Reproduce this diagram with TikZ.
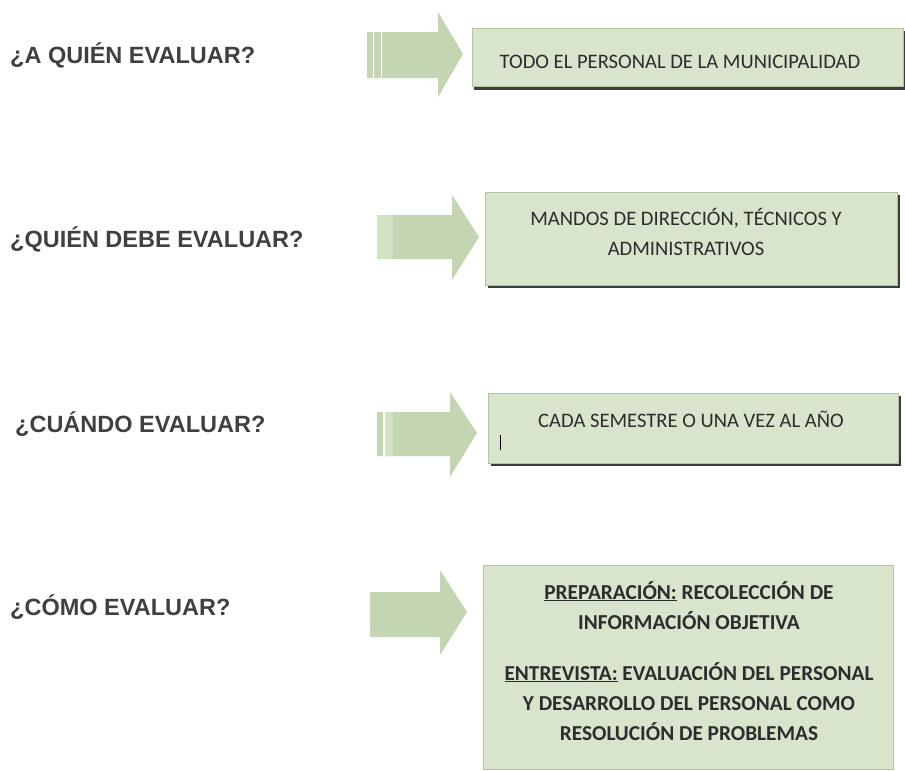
\documentclass[tikz,border=0pt]{standalone}
\usepackage{fontspec}
\setmainfont{Carlito}
\newfontfamily\qfont{Liberation Sans}
\definecolor{arrowgreen}{RGB}{196,214,177}
\definecolor{arrowlight}{RGB}{210,225,196}
\definecolor{boxgreen}{RGB}{216,228,204}
\definecolor{boxedge}{RGB}{178,196,160}
\definecolor{shadowgray}{RGB}{60,60,60}
\definecolor{qtext}{RGB}{64,64,64}
\definecolor{btext}{RGB}{45,45,45}
\newcommand{\ulbox}[1]{\underline{#1}}
\tikzset{
  qlabel/.style={anchor=base west, inner sep=0pt, text=qtext,
    font=\qfont\bfseries\fontsize{23.5}{27}\selectfont},
  boxtext/.style={anchor=base, inner sep=0pt, text=btext,
    font=\fontsize{20.6}{24}\selectfont},
  boxbold/.style={anchor=base, inner sep=0pt, text=btext,
    font=\bfseries\fontsize{21.3}{25}\selectfont},
  arrowbody/.style={fill=arrowgreen, draw=none},
  greenbox/.style={fill=boxgreen, draw=boxedge, line width=0.9pt},
  boxshadow/.style={fill=shadowgray, draw=none},
}
\begin{document}
\begin{tikzpicture}[x=1pt, y=-1pt]
\useasboundingbox (0,0) rectangle (905,771);
\fill[white] (0,0) rectangle (905,771);

% ---------- labels ----------
\node[qlabel] (q1) at (10,63) {¿A QUIÉN EVALUAR?};
\node[qlabel] (q2) at (10,247) {¿QUIÉN DEBE EVALUAR?};
\node[qlabel] (q3) at (15,432) {¿CUÁNDO EVALUAR?};
\node[qlabel] (q4) at (10,615) {¿CÓMO EVALUAR?};

% ---------- arrows ----------
% row 1
\path[arrowbody] (367,32) -- (438,32) -- (438,12) -- (463,54) -- (438,97) -- (438,78) -- (367,78) -- cycle;
\fill[white] (372.5,32) rectangle (373.8,78);
\fill[white] (380.5,32) rectangle (381.8,78);
% row 2
\path[arrowbody] (377,215) -- (452,215) -- (452,195) -- (479,237) -- (452,280) -- (452,259) -- (377,259) -- cycle;
\fill[arrowlight] (377,215) rectangle (393,259);
% row 3
\path[arrowbody] (377,412) -- (450,412) -- (450,392) -- (477,433) -- (450,477) -- (450,456) -- (377,456) -- cycle;
\fill[white] (383,412) rectangle (384.5,456);
\fill[arrowlight] (384.5,412) rectangle (393,456);
% row 4
\path[arrowbody] (370,592) -- (440,592) -- (440,570) -- (467,612) -- (440,655) -- (440,637) -- (370,637) -- cycle;

% ---------- boxes ----------
% box 1
\fill[boxshadow] (474,31) rectangle (905,89.5);
\path[greenbox] (472,28) rectangle (903,86);
\node[boxtext] (t1) at (680,68) {TODO EL PERSONAL DE LA MUNICIPALIDAD};
% box 2
\fill[boxshadow] (488,195) rectangle (900,288);
\path[greenbox] (485,192) rectangle (897,285);
\node[boxtext] (t2a) at (686,225) {MANDOS DE DIRECCIÓN, TÉCNICOS Y};
\node[boxtext] (t2b) at (686,255) {ADMINISTRATIVOS};
% box 3
\fill[boxshadow] (491,396) rectangle (901,466);
\path[greenbox] (488,393) rectangle (898,463);
\node[boxtext] (t3) at (691,427) {CADA SEMESTRE O UNA VEZ AL AÑO};
\draw[black, line width=1.3pt] (500.5,435) -- (500.5,450);
% box 4
\path[greenbox] (483,565) rectangle (893,769);
\node[boxbold] (t4a) at (689,599) {\ulbox{PREPARACIÓN:} RECOLECCIÓN DE};
\node[boxbold] (t4b) at (689,629) {INFORMACIÓN OBJETIVA};
\node[boxbold] (t4c) at (689,680) {\ulbox{ENTREVISTA:} EVALUACIÓN DEL PERSONAL};
\node[boxbold] (t4d) at (689,710) {Y DESARROLLO DEL PERSONAL COMO};
\node[boxbold] (t4e) at (689,740) {RESOLUCIÓN DE PROBLEMAS};
\end{tikzpicture}
\end{document}
